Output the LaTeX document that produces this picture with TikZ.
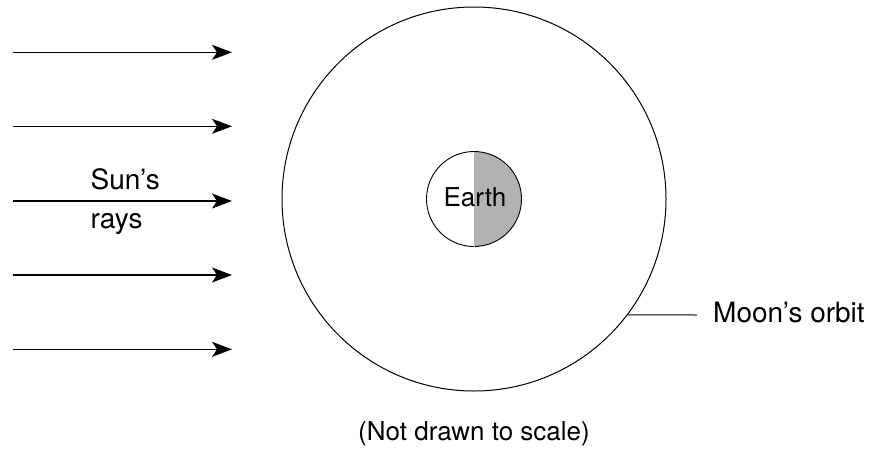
\documentclass[tikz,border=0pt]{standalone}
\usepackage{fontspec}
\setmainfont{TeX Gyre Heros}
\usetikzlibrary{arrows.meta}
\begin{document}
\begin{tikzpicture}[x=1pt,y=-1pt,
  lbl/.style={inner sep=0pt,font=\fontsize{26}{31}\selectfont},
  biglbl/.style={inner sep=0pt,font=\fontsize{28}{33}\selectfont},
  ray/.style={line width=1.3pt,-{Stealth[length=20pt,width=15pt,inset=5pt]}}]
\useasboundingbox (0,0) rectangle (880,450);
% Moon's orbit
\node[circle,draw,line width=1pt,minimum size=384pt,inner sep=0pt] (orbit) at (474,199) {};
% Earth
\fill[black!30] (474,151.5) arc[start angle=90,end angle=-90,radius=47.5pt] -- cycle;
\node[circle,draw,line width=0.9pt,minimum size=95pt,inner sep=0pt] (earth) at (474,199) {};
\draw[line width=0.6pt,black!30] (474,151.5) -- (474,246.5);
\node[lbl,anchor=base] (earthlbl) at (475,206) {Earth};
% Sun's rays
\foreach \i/\y in {1/52.3,2/126.3,3/201,4/275,5/349.3}{
  \coordinate (s\i) at (12.5,\y);
  \coordinate (e\i) at (232,\y);
  \draw[ray] (s\i) -- (e\i);
}
\node[biglbl,anchor=base west] (sun) at (90.5,189.5) {Sun’s};
\node[biglbl,anchor=base west] (rays) at (90.5,228) {rays};
% label
\coordinate (lead) at (697,315);
\draw[line width=1pt] (orbit.-37.2) -- (lead);
\node[biglbl,anchor=base west] (moon) at (713,322.3) {Moon’s orbit};
\node[lbl,anchor=base] (scale) at (474,440) {(Not drawn to scale)};
\end{tikzpicture}
\end{document}
